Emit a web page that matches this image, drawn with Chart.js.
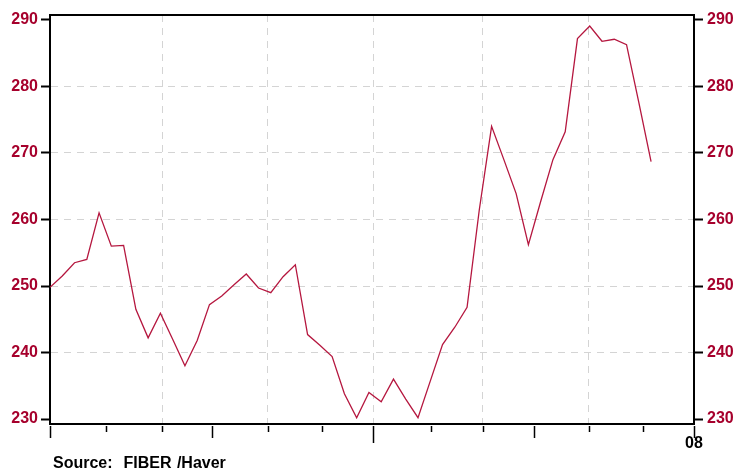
<!DOCTYPE html>
<html>
<head>
<meta charset="utf-8">
<script src="https://cdn.jsdelivr.net/npm/chart.js@4/dist/chart.umd.min.js"></script>
<style>
    html, body { margin: 0; padding: 0; background: #fff; }
    #wrap { position: relative; width: 738px; height: 471px; }
    #source {
        position: absolute; left: 53px; top: 455px;
        font: bold 16px "Liberation Sans", Arial, sans-serif;
        line-height: 16px; white-space: pre; word-spacing: 1px; color: #000;
    }
</style>
</head>
<body>
<div id="wrap">
    <canvas id="chart" width="738" height="471"></canvas>
    <div id="source">Source:  FIBER /Haver</div>
</div>
<script>
// weekly values, 2007 (index = week number)
const values = [
    249.8, 251.5, 253.5, 254.0, 261.0, 256.0, 256.1, 246.5, 242.2, 245.9,
    242.0, 238.0, 241.8, 247.2, 248.5, 250.2, 251.8, 249.7, 249.0, 251.4,
    253.2, 242.7, 241.1, 239.4, 233.8, 230.2, 234.0, 232.6, 236.0, 233.0,
    230.2, 235.7, 241.2, 243.8, 246.8, 261.5, 274.0, 269.0, 263.9, 256.2,
    262.7, 269.0, 273.2, 287.2, 289.1, 286.8, 287.1, 286.3, 277.6, 268.7
];
// month starts in week units, Jan 07 .. Jan 08
const monthTicks = [0, 4.56, 9.14, 13.18, 17.77, 22.19, 26.37, 31.1, 35.29, 39.45, 43.9, 48.33, 52.5];
const monthLabels = ['', '', '', '', '', '', '', '', '', '', '', '', '08'];
const yTicks = [230, 240, 250, 260, 270, 280, 290];

const LINE_RED = '#B5173F';
const LABEL_RED = '#A6002C';
const GRID = '#d4d4d4';
const FONT = { family: '"Liberation Sans", Arial, sans-serif', size: 16, weight: 'bold' };

document.addEventListener('DOMContentLoaded', function () {
    const ctx = document.getElementById('chart').getContext('2d');

    // top frame line and the month tick marks (varying length)
    const frameAndTicks = {
        id: 'frameAndTicks',
        afterDraw(chart) {
            const { ctx, chartArea, scales } = chart;
            ctx.save();
            ctx.strokeStyle = '#000';
            ctx.lineWidth = 2;
            ctx.beginPath();
            ctx.moveTo(chartArea.left - 1, chartArea.top);
            ctx.lineTo(chartArea.right + 1, chartArea.top);
            ctx.stroke();
            ctx.lineWidth = 1.5;
            monthTicks.forEach((v, i) => {
                const px = Math.round(scales.x.getPixelForValue(v)) + 0.5;
                let len = i % 3 === 0 ? 12 : 6;
                if (i === 6) len = 17;
                ctx.beginPath();
                ctx.moveTo(px, chartArea.bottom + 2);
                ctx.lineTo(px, chartArea.bottom + 2 + len);
                ctx.stroke();
            });
            ctx.restore();
        }
    };

    const yGrid = {
        drawOnChartArea: true,
        color: c => (c.tick && c.tick.value > 230 && c.tick.value < 290) ? GRID : 'rgba(0,0,0,0)',
        lineWidth: 1,
        tickLength: 9,
        tickColor: '#000',
        tickWidth: 2
    };

    new Chart(ctx, {
        type: 'line',
        data: {
            datasets: [{
                data: values.map((v, i) => ({ x: i, y: v })),
                borderColor: LINE_RED,
                borderWidth: 1.3,
                pointRadius: 0,
                tension: 0,
                fill: false
            }]
        },
        options: {
            responsive: false,
            animation: false,
            devicePixelRatio: 1,
            layout: { padding: { top: 15, bottom: 0, left: 0, right: 0 } },
            plugins: {
                legend: { display: false },
                tooltip: { enabled: false }
            },
            scales: {
                x: {
                    type: 'linear',
                    min: 0,
                    max: 52.5,
                    afterBuildTicks: scale => {
                        scale.ticks = monthTicks.map(v => ({ value: v }));
                    },
                    afterFit: scale => { scale.height = 47; },
                    ticks: {
                        autoSkip: false,
                        maxRotation: 0,
                        padding: 10,
                        color: '#000',
                        font: FONT,
                        callback: (value, index) => monthLabels[index]
                    },
                    grid: {
                        drawTicks: false,
                        color: c => [2, 4, 6, 8, 10].includes(c.index) ? GRID : 'rgba(0,0,0,0)',
                        lineWidth: 1
                    },
                    border: { display: true, color: '#000', width: 2, dash: [7, 6] }
                },
                y: {
                    position: 'left',
                    min: 229.25,
                    max: 290.75,
                    afterBuildTicks: scale => {
                        scale.ticks = yTicks.map(v => ({ value: v }));
                    },
                    afterFit: scale => { scale.width = 50; },
                    ticks: { color: LABEL_RED, font: FONT, padding: 3 },
                    grid: yGrid,
                    border: { display: true, color: '#000', width: 2, dash: [7, 6] }
                },
                y2: {
                    position: 'right',
                    min: 229.25,
                    max: 290.75,
                    afterBuildTicks: scale => {
                        scale.ticks = yTicks.map(v => ({ value: v }));
                    },
                    afterFit: scale => { scale.width = 44; },
                    ticks: { color: LABEL_RED, font: FONT, padding: 4 },
                    grid: { drawOnChartArea: false, tickLength: 9, tickColor: '#000', tickWidth: 2 },
                    border: { display: true, color: '#000', width: 2 }
                }
            }
        },
        plugins: [frameAndTicks]
    });
});
</script>
</body>
</html>
